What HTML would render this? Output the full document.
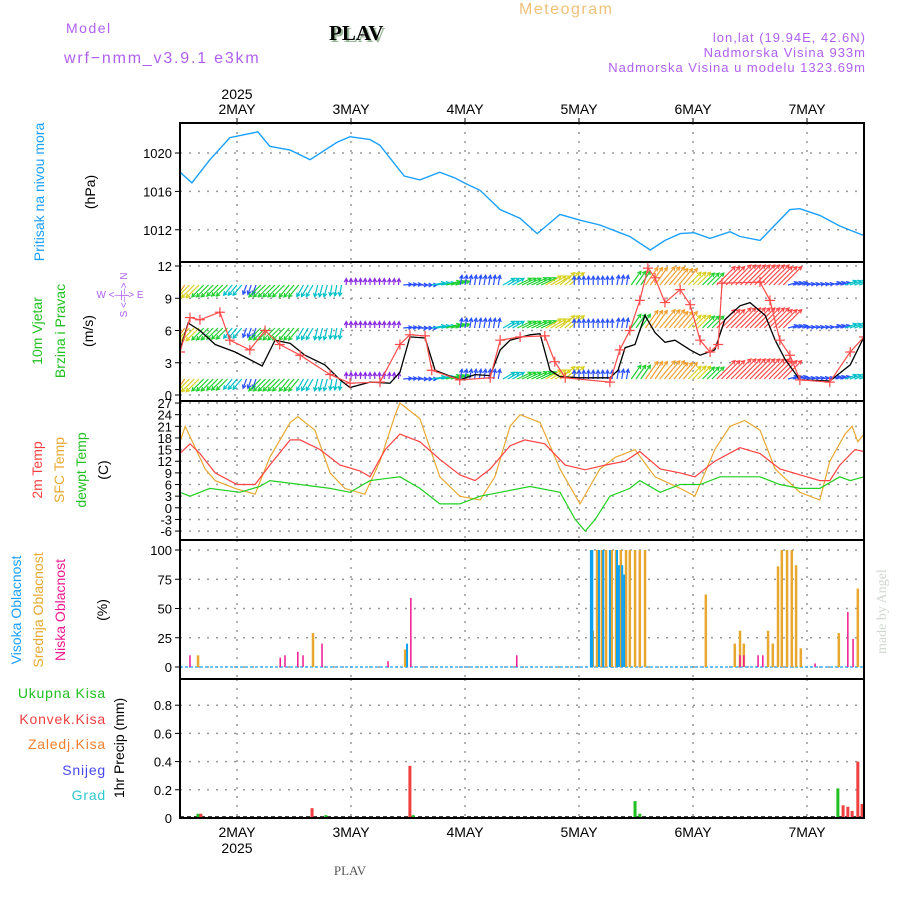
<!DOCTYPE html>
<html><head><meta charset="utf-8"><style>
body{margin:0;background:#fff;}
svg{display:block;font-family:"Liberation Sans",sans-serif;}
</style></head><body>
<svg id="chart" width="900" height="900" viewBox="0 0 900 900" xmlns="http://www.w3.org/2000/svg">
<rect width="900" height="900" fill="#fff"/>
<text x="66" y="33" fill="#b060f0" font-size="14" letter-spacing="1.5">Model</text>
<text x="64" y="63" fill="#b060f0" font-size="16" letter-spacing="1.8">wrf−nmm_v3.9.1 e3km</text>
<text x="331" y="42" fill="#9ab89a" font-size="21" font-weight="bold" font-family="Liberation Serif,serif">PLAV</text>
<text x="329" y="40" fill="#000" font-size="21" font-weight="bold" font-family="Liberation Serif,serif">PLAV</text>
<text x="519" y="14" fill="#f0c078" font-size="16" letter-spacing="1.5">Meteogram</text>
<text x="866" y="42" fill="#b060f0" font-size="13" text-anchor="end" letter-spacing="1">lon,lat (19.94E, 42.6N)</text>
<text x="866" y="57" fill="#b060f0" font-size="13" text-anchor="end" letter-spacing="1">Nadmorska Visina 933m</text>
<text x="866" y="72" fill="#b060f0" font-size="13" text-anchor="end" letter-spacing="1">Nadmorska Visina u modelu 1323.69m</text>
<text transform="translate(886,654) rotate(-90)" fill="#d0d8d0" font-size="14" font-family="Liberation Serif,serif">made by Angel</text>
<text x="350" y="875" fill="#555" font-size="13" text-anchor="middle" font-family="Liberation Serif,serif">PLAV</text>
<g id="layers"></g>
</svg>
<script>
// ---------- data ----------
const dayLabels=["2MAY","3MAY","4MAY","5MAY","6MAY","7MAY"];
const dayHours=[12,36,60,84,108,132];
const presHours=[0,2.5,6.3,10.5,16.4,18.9,23.2,27.4,33,35.8,40,42.1,47.2,50.5,54.7,57.9,60.2,63.2,67.4,71.6,75.2,80,84.2,88.4,92.6,94.7,99,102.1,105.3,108.2,111.6,115.8,117.9,122.1,128.4,130.5,134.7,138.9,144];
const presVals=[1018.0,1016.9,1019.3,1021.6,1022.2,1020.7,1020.3,1019.3,1021.1,1021.7,1021.4,1020.8,1017.6,1017.2,1018.0,1017.4,1016.8,1016.1,1014.1,1013.2,1011.6,1013.6,1013.0,1012.5,1011.7,1011.3,1009.9,1010.9,1011.6,1011.7,1011.1,1011.8,1011.3,1010.9,1014.1,1014.2,1013.5,1012.4,1011.4];
const presTicks=[1012,1016,1020];
const windHours=[0,1.7,4.2,7.4,11.6,17.3,20,23.2,26.3,30.5,33.7,35.8,40,44.2,46.3,48.4,51.6,53.7,58.9,62.1,65.3,67.4,69.5,73.7,75.8,77.9,80,84.2,90.5,92.2,93.7,95.8,97.9,100,102.1,104.2,107.4,109.5,112.6,114.7,117.9,120,123.2,125.3,127.4,130.5,136.8,141.1,144];
const windSpeed=[4.2,6.7,6.0,4.7,4.0,2.7,5.1,4.8,3.7,2.8,1.4,0.7,1.2,1.1,2.1,5.4,5.3,2.3,1.4,1.9,1.8,4.2,5.1,5.6,5.7,2.3,1.7,1.6,1.6,2.3,4.4,4.7,7.4,5.8,4.9,5.1,4.2,3.7,4.2,7.0,8.3,8.6,7.4,5.1,3.3,1.4,1.3,2.8,5.4];
const gustHours=[0,2.1,4.2,8.4,10.5,14.7,17.9,21,25.3,31.6,35.8,42.1,46.3,48.4,51.6,53,58.9,65.3,67.4,71.6,76.8,78.9,81.1,90.5,92.6,94.7,96.8,98.5,100,102.1,105.3,107.4,109.5,111.6,113.3,114.1,122.1,124.2,126.3,128.4,130.5,136.8,141.1,144];
const gustSpeed=[4.0,7.2,7.0,7.7,5.1,4.2,6.0,4.7,3.7,1.9,1.1,1.2,4.7,5.6,5.5,2.3,1.4,1.6,5.1,5.4,5.5,3.1,1.6,1.2,4.2,6.0,8.8,11.8,10.9,8.6,9.8,8.4,5.1,4.0,4.7,10.4,10.5,8.8,5.1,3.7,1.4,1.2,4.0,5.4];
const arrowDir=[235,225,225,225,230,250,225,225,230,240,255,260,90,90,90,85,5,0,10,15,80,80,80,30,25,25,30,40,90,90,90,80,55,55,50,50,45,45,45,45,45,45,45,15,10,10,15,20,20];
const arrowSpd=[8,6.5,6,5.5,4.5,3,6,6,5.5,4.5,4,3.5,1.5,1.5,1.5,1.5,2.5,3,4.5,5,3,3,3,4.5,5.5,6,6.5,7,2.5,2.5,2.5,3,6,8,9,8,6.5,6,10,11,11,11,10,3,2,2,3,4,4.5];
const windTicks=[0,3,6,9,12];
const t2Hours=[0,2.1,4.2,7.4,12,15.8,18.9,23.2,25.3,29.5,33.7,37.9,40,43.2,46.3,50.5,54.7,58.9,62.1,65.3,69.5,72.6,76.8,81.1,85.3,89.5,93.7,96.8,101.1,105.3,108.4,112.6,117.9,122.1,126.3,130.5,134.7,136.8,138.9,142.1,144];
const t2Vals=[14,16.5,14,9,6,6,11,17.5,17.5,15,11,9.5,8,15,19,17,12.5,8.5,7,10,16,17.5,16.5,11,9.8,11,12,14.5,10,9,8,12,15.5,14,10,8.5,7,7,11,15,14.5];
const sfcHours=[0,1.1,5.3,7.4,11.6,15.8,18.9,23.2,24.8,28.4,31.6,34.7,38.9,42.1,45.3,46.3,50.5,54.7,58.9,63.2,66.3,69.5,71.6,75.8,80,84.2,88.4,91.6,95.8,100,105.3,108.4,112.6,115.8,118.9,122.1,125.3,130.5,134.7,136.8,140,141.5,142.7,144];
const sfcVals=[17,21,10,7,5,3.5,13,22,23.5,20,9,5,3.5,12,24,27,23,8,3,2,8,21,24,22,10,1,10,13,15,8,5,3,15,21,22.5,20,10,4,2,12,19,21,17,19];
const dewHours=[0,2.1,4.2,6.3,12.6,16.8,18.9,25.3,31.6,35.8,40,46.3,50.5,54.7,58.9,63.2,67.4,73.7,80,83.2,85.3,87.4,90.5,94.7,96.8,101.1,105.3,109.5,113.7,117.9,122.1,126.3,130.5,134.7,138.9,141.1,144];
const dewVals=[4,3,4,5,4,5.5,7,6,5,4,7,8,5,1,1,3,4,5.5,4,-3,-6,-3,3,5,7,4,6,6,8,8,8,6,5,5,8,7,8];
const tempTicks=[-6,-3,0,3,6,9,12,15,18,21,24,27];
const lowHours=[2.1,21.1,22.1,24.8,25.9,29.9,43.8,48.6,70.9,117.9,118.7,121.7,122.7,133.7,140.6,141.7];
const lowVals=[10,8,10,13,10,20,5,59,10,10,10,10,10,3,47,24];
const midHours=[3.8,28,47.4,86.9,87.8,88.8,89.7,90.9,91.8,92.8,93.9,94.7,95.8,96.8,97.9,110.7,116.8,117.9,118.7,123.8,124.8,125.9,126.7,127.8,128.8,129.7,130.7,138.7,142.7];
const midVals=[10,29,15,31,100,100,100,100,100,100,100,100,100,100,100,62,20,31,20,31,20,86,100,100,100,87,16,29,67];
const highHours=[47.8,86.5,86.8,88.2,89.1,90.5,92,92.4,93.1,93.5];
const highVals=[20,100,100,100,100,100,100,87,87,79];
const cloudTicks=[0,25,50,75,100];
const totHours=[3.8,30.7,49.1,95.8,96.8,138.5];
const totVals=[0.03,0.02,0.02,0.12,0.03,0.21];
const convHours=[4.4,27.8,48.4,139.6,140.6,141.5,142.7,143.6];
const convVals=[0.03,0.07,0.37,0.09,0.08,0.05,0.4,0.1];
const precTicks=[0,0.2,0.4,0.6,0.8];
const precTickLabels=["0","0.2","0.4","0.6","0.8"];

// ---------- geometry ----------
const L=180,R=864,NS="http://www.w3.org/2000/svg";
const X=h=>L+h*(R-L)/144;
const yP=p=>153+(1020-p)*9.6;
const yW=v=>395-v*10.75;
const yT=t=>507.8-t*3.88;
const yC=c=>667-c*1.17;
const yR=r=>818-r*141;
const panels=[[123,"pressure"],[262,"wind"],[401,"temperature"],[540,"cloud"],[679,"precip"]];
const root=document.getElementById('layers');
function el(tag,attrs,parent){const e=document.createElementNS(NS,tag);for(const k in attrs)e.setAttribute(k,attrs[k]);(parent||root).appendChild(e);return e;}
function txt(s,attrs,parent){const e=el('text',attrs,parent);e.textContent=s;return e;}

// clip paths
const defs=el('defs',{});
panels.forEach(([top,n])=>{const c=el('clipPath',{id:'clip-'+n},defs);el('rect',{x:L,y:top,width:R-L,height:139},c);});

// grids
function hgrid(vals,f,top){vals.forEach(v=>{const g=el('line',{x1:L,x2:R,y1:f(v),y2:f(v),stroke:'#999','stroke-width':1.5,'stroke-dasharray':'2,7'});


const tk=el('line',{x1:L-5,x2:L,y1:f(v),y2:f(v),stroke:'#000'});

});}
panels.forEach(([top,n])=>{dayHours.forEach(h=>{const g=el('line',{x1:X(h),x2:X(h),y1:top,y2:top+139,stroke:'#999','stroke-width':1.5,'stroke-dasharray':'2,7'});

});});
hgrid(presTicks,yP);hgrid(windTicks,yW);hgrid(tempTicks,yT);hgrid(cloudTicks,yC);hgrid(precTicks.slice(1),yR);

// tick labels
function ylabels(vals,labels,f,name){vals.forEach((v,i)=>{const t=txt(labels[i],{x:172,y:f(v)+5,'font-size':13,'text-anchor':'end',fill:'#000'});

});}
ylabels(presTicks,presTicks.map(String),yP,'pressure');
ylabels(windTicks,windTicks.map(String),yW,'wind');
ylabels(tempTicks,tempTicks.map(String),yT,'temp');
ylabels(cloudTicks,cloudTicks.map(String),yC,'cloud');
ylabels(precTicks,precTickLabels,yR,'precip');
dayLabels.forEach((d,i)=>{const a=txt(d,{x:X(dayHours[i]),y:114,'font-size':14,'text-anchor':'middle'});


const b=txt(d,{x:X(dayHours[i]),y:837,'font-size':14,'text-anchor':'middle'});


const t1=el('line',{x1:X(dayHours[i]),x2:X(dayHours[i]),y1:118,y2:123,stroke:'#000'});

});
const y1=txt("2025",{x:X(dayHours[0]),y:99,'font-size':14,'text-anchor':'middle'});


const y2=txt("2025",{x:X(dayHours[0]),y:853,'font-size':14,'text-anchor':'middle'});



// series helpers
function line(hs,vs,f,color,clip,name,w){const d=hs.map((h,i)=>(i?'L':'M')+X(h).toFixed(1)+','+f(vs[i]).toFixed(1)).join('');
const p=el('path',{d,fill:'none',stroke:color,'stroke-width':w||1.3,'clip-path':'url(#clip-'+clip+')'});

return p;}
function bars(hs,vs,f,base,color,clip,name,w){const g=el('g',{'clip-path':'url(#clip-'+clip+')'});


hs.forEach((h,i)=>{const y=f(vs[i]);const r=el('rect',{x:X(h)-w/2,y:y,width:w,height:Math.max(0,base-y),fill:color},g);

});}

// pressure
line(presHours,presVals,yP,'#1aa0ff','pressure','pressure-line',1.4);

// wind arrows
function spdColor(s){return s<2?'#8a2be2':s<3.5?'#2a50ff':s<5?'#00c0c8':s<6.5?'#20d030':s<8?'#d8d020':s<9.5?'#f0a030':'#ff4848';}
const rows=[285,328,379];
const ag=el('g',{'clip-path':'url(#clip-wind)'});


rows.forEach(by=>{arrowDir.forEach((dir,i)=>{for(let k=0;k<3;k++){const h=i*3+k-1;if(h<0||h>144)continue;
const x0=X(h),len=3+arrowSpd[i]*2.3,a=dir*Math.PI/180;const x1=x0+len*Math.cos(a),y1=by-len*Math.sin(a);
const c=spdColor(arrowSpd[i]);
const ah=a+Math.PI;const hx1=x1+4*Math.cos(ah+0.5),hy1=y1-4*Math.sin(ah+0.5),hx2=x1+4*Math.cos(ah-0.5),hy2=y1-4*Math.sin(ah-0.5);
const p=el('path',{d:`M${x0},${by}L${x1},${y1}M${hx1},${hy1}L${x1},${y1}L${hx2},${hy2}`,stroke:c,'stroke-width':1.2,fill:'none'},ag);

}});});
line(windHours,windSpeed,yW,'#000','wind','wind-speed-line',1.3);
line(gustHours,gustSpeed,yW,'#ff4a4a','wind','wind-gust-line',1.2);
const gm=el('g',{'clip-path':'url(#clip-wind)'});


gustHours.forEach((h,i)=>{const x=X(h),y=yW(gustSpeed[i]);const m=el('path',{d:`M${x-5},${y}H${x+5}M${x},${y-5}V${y+5}`,stroke:'#ff4a4a','stroke-width':1.2},gm);

});

// temperature
line(sfcHours,sfcVals,yT,'#e8a830','temperature','sfc-temp-line',1.2);
line(t2Hours,t2Vals,yT,'#ff4040','temperature','t2m-line',1.2);
line(dewHours,dewVals,yT,'#20d020','temperature','dewpoint-line',1.2);

// cloud
const b0=el('line',{x1:L,x2:R,y1:yC(0),y2:yC(0),stroke:'#40b0ff','stroke-width':1.5,'stroke-dasharray':'3,2'});


bars(midHours,midVals,yC,yC(0),'#e8a830','cloud','mid-cloud',2.5);
bars(highHours,highVals,yC,yC(0),'#10a0f0','cloud','high-cloud',2);
bars(lowHours,lowVals,yC,yC(0),'#f01890','cloud','low-cloud',1.5);

// precip
const pb=el('line',{x1:L,x2:R,y1:817,y2:817,stroke:'#000','stroke-width':1.5,'stroke-dasharray':'4,3'});


bars(totHours,totVals,yR,818,'#20c020','precip','total-precip',3);
bars(convHours,convVals,yR,818,'#f04040','precip','convective-precip',3);

// frames
panels.forEach(([top,n])=>{const r=el('rect',{x:L,y:top,width:R-L,height:139,fill:'none',stroke:'#000','stroke-width':2});

});

// axis titles
function vt(s,x,y,color,size,name){const t=txt(s,{transform:`translate(${x},${y}) rotate(-90)`,'text-anchor':'middle',fill:color,'font-size':size||14});

}
vt("Pritisak na nivou mora",44,192,'#1aa0ff',14,'pressure-title');
vt("(hPa)",95,192,'#000',14,'pressure-unit');
vt("10m Vjetar",42,331,'#20c020',14,'wind-title-1');
vt("Brzina i Pravac",65,331,'#20c020',14,'wind-title-2');
vt("(m/s)",93,331,'#000',14,'wind-unit');
vt("S <–|–> N",127,295,'#b060f0',10,'compass-ns');
const cw=txt("W  <–|–>  E",{x:120,y:298,'font-size':10,'text-anchor':'middle',fill:'#b060f0'});


vt("2m Temp",42,470,'#ff4040',14,'t2m-title');
vt("SFC Temp",64,470,'#e8a830',14,'sfc-title');
vt("dewpt Temp",86,470,'#20c020',14,'dew-title');
vt("(C)",108,470,'#000',14,'temp-unit');
vt("Visoka Oblacnost",21,610,'#1aa0ff',14,'high-cloud-title');
vt("Srednja Oblacnost",43,610,'#e8a830',14,'mid-cloud-title');
vt("Niska Oblacnost",65,610,'#f01890',14,'low-cloud-title');
vt("(%)",107,610,'#000',14,'cloud-unit');
vt("1hr Precip (mm)",124,748,'#000',14,'precip-title');
[["Ukupna Kisa",698,'#20c020'],["Konvek.Kisa",724,'#f04040'],["Zaledj.Kisa",749,'#f08030'],["Snijeg",775,'#4848f0'],["Grad",800,'#30c8d0']].forEach(([s,y,c])=>{
const t=txt(s,{x:106,y:y,'text-anchor':'end',fill:c,'font-size':14,'letter-spacing':0.8});

});
</script>
</body></html>
